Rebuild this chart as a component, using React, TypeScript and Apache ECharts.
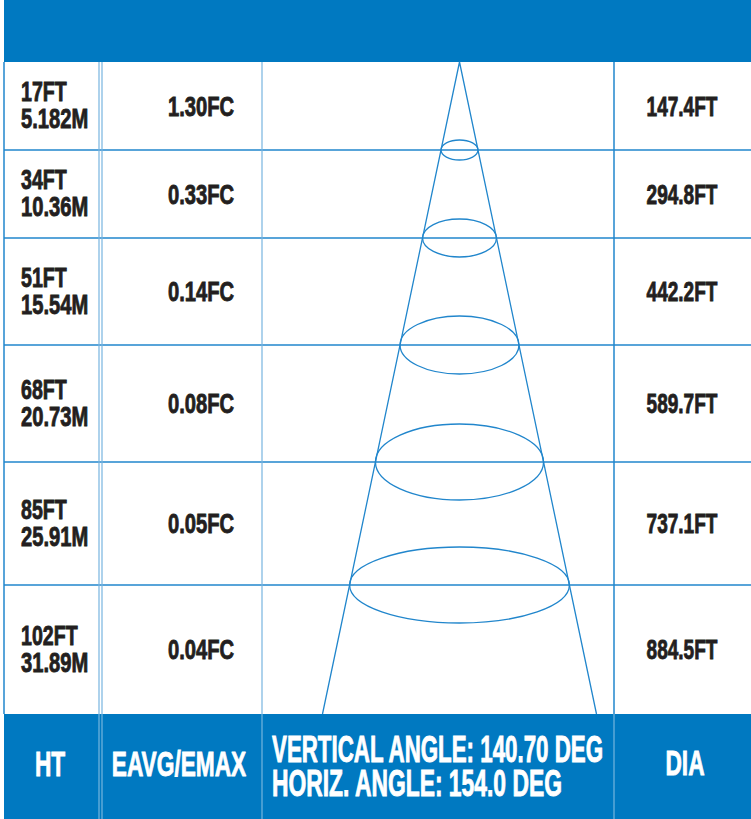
import React, { useEffect, useRef } from "react";
import * as echarts from "echarts";

// ---- data ----
const heightsFt = ["17", "34", "51", "68", "85", "102"];
const heightsM = ["5.182", "10.36", "15.54", "20.73", "25.91", "31.89"];
const illuminanceFc = ["1.30", "0.33", "0.14", "0.08", "0.05", "0.04"];
const diametersFt = ["147.4", "294.8", "442.2", "589.7", "737.1", "884.5"];
const verticalAngle = "140.70";
const horizontalAngle = "154.0";
const footerLabels = ["HT", "EAVG/EMAX", "DIA"];

// ---- layout (pixel space of the 751 x 819 canvas) ----
const W = 751;
const H = 819;
const rowEdges = [62, 150, 238, 345, 462, 585, 714];
const colEdges = [4, 99, 102, 262, 614];
const apex = [459.5, 62];
const baseHalf = 137;
const ellipseRy = [10, 19, 29, 38, 38];

const BLUE = "#0079c1";
const LINE = "#2186cc";
const LIGHT = "#77b4e0";
const INK = "#231f20";
const FONT = "'Liberation Sans', Arial, sans-serif";

const halfAt = (y: number) => (baseHalf * (y - apex[1])) / (rowEdges[6] - apex[1]);

export default function App() {
  const ref = useRef<HTMLDivElement>(null);
  useEffect(() => {
    if (!ref.current) return;
    const chart = echarts.init(ref.current, null, { renderer: "svg" });
    const rowCenters = rowEdges.slice(0, 6).map((e, i) => (e + rowEdges[i + 1]) / 2);

    const txt = (
      x: number,
      y: number,
      text: string,
      size: number,
      scale: number,
      align: string,
      fill: string
    ) => ({
      type: "text",
      x,
      y,
      scaleX: scale,
      style: {
        text,
        fill,
        stroke: fill,
        lineWidth: 0.9,
        fontSize: size,
        fontWeight: "bold",
        fontFamily: FONT,
        align,
        verticalAlign: "middle",
      },
    });

    chart.setOption({
      animation: false,
      grid: { left: 0, right: 0, top: 0, bottom: 0, containLabel: false },
      xAxis: { type: "value", min: 0, max: W, show: false },
      yAxis: { type: "value", min: 0, max: H, inverse: true, show: false },
      series: [
        {
          type: "custom",
          name: "bands",
          z: 1,
          clip: false,
          data: [
            [colEdges[0], 0, W, rowEdges[0]],
            [colEdges[0], rowEdges[6], W, H],
          ],
          renderItem: (_p: any, api: any) => {
            const a = api.coord([api.value(0), api.value(1)]);
            const b = api.coord([api.value(2), api.value(3)]);
            return {
              type: "rect",
              shape: { x: a[0], y: a[1], width: b[0] - a[0], height: b[1] - a[1] },
              style: { fill: BLUE },
            };
          },
        },
        {
          type: "custom",
          name: "rowLines",
          z: 2,
          clip: false,
          data: rowEdges.slice(1, 6).map((y) => [colEdges[0], y, W]),
          renderItem: (_p: any, api: any) => {
            const a = api.coord([api.value(0), api.value(1)]);
            const b = api.coord([api.value(2), api.value(1)]);
            return {
              type: "line",
              shape: { x1: a[0], y1: a[1], x2: b[0], y2: b[1] },
              style: { stroke: LINE, lineWidth: 1.4 },
            };
          },
        },
        {
          type: "custom",
          name: "colLines",
          z: 2,
          clip: false,
          data: colEdges.map((x, i) => [x, rowEdges[0], rowEdges[6], i]),
          renderItem: (_p: any, api: any) => {
            const a = api.coord([api.value(0), api.value(1)]);
            const b = api.coord([api.value(0), api.value(2)]);
            const i = api.value(3);
            const light = i === 1 || i === 2 || i === 3;
            return {
              type: "line",
              shape: { x1: a[0], y1: a[1], x2: b[0], y2: b[1] },
              style: { stroke: light ? LIGHT : LINE, lineWidth: light ? 1.2 : 1.5 },
            };
          },
        },
        {
          type: "custom",
          name: "footerDividers",
          z: 2,
          clip: false,
          data: colEdges.slice(1).map((x) => [x, rowEdges[6], H]),
          renderItem: (_p: any, api: any) => {
            const a = api.coord([api.value(0), api.value(1)]);
            const b = api.coord([api.value(0), api.value(2)]);
            return {
              type: "line",
              shape: { x1: a[0], y1: a[1], x2: b[0], y2: b[1] },
              style: { stroke: "rgba(255,255,255,0.55)", lineWidth: 1 },
            };
          },
        },
        {
          type: "line",
          name: "cone",
          z: 3,
          symbol: "none",
          clip: false,
          lineStyle: { color: LINE, width: 1.3 },
          data: [
            [apex[0] - baseHalf, rowEdges[6]],
            [apex[0], apex[1]],
            [apex[0] + baseHalf, rowEdges[6]],
          ],
        },
        {
          type: "custom",
          name: "beams",
          z: 3,
          clip: false,
          data: rowEdges.slice(1, 6).map((y, i) => [apex[0], y, halfAt(y), ellipseRy[i]]),
          renderItem: (_p: any, api: any) => {
            const c = api.coord([api.value(0), api.value(1)]);
            const s = api.size([api.value(2), api.value(3)]);
            return {
              type: "ellipse",
              shape: { cx: c[0], cy: c[1], rx: s[0], ry: s[1] },
              style: { fill: "none", stroke: LINE, lineWidth: 1.3 },
            };
          },
        },
        {
          type: "custom",
          name: "cells",
          z: 5,
          clip: false,
          data: heightsFt.map((_, i) => [i]),
          renderItem: (p: any, api: any) => {
            const i = p.dataIndex;
            const cy = rowCenters[i] - 1;
            const l1 = api.coord([21, cy - 13.5]);
            const l2 = api.coord([21, cy + 13.5]);
            const fc = api.coord([201, cy + 1]);
            const dia = api.coord([682, cy + 1]);
            return {
              type: "group",
              children: [
                txt(l1[0], l1[1], heightsFt[i] + "FT", 28, 0.7, "left", INK),
                txt(l2[0], l2[1], heightsM[i] + "M", 28, 0.72, "left", INK),
                txt(fc[0], fc[1], illuminanceFc[i] + "FC", 28, 0.72, "center", INK),
                txt(dia[0], dia[1], diametersFt[i] + "FT", 28, 0.68, "center", INK),
              ],
            };
          },
        },
        {
          type: "custom",
          name: "footer",
          z: 5,
          clip: false,
          data: [[0]],
          renderItem: (_p: any, api: any) => {
            const ht = api.coord([50, 763]);
            const ea = api.coord([179, 763]);
            const v1 = api.coord([272, 749.5]);
            const v2 = api.coord([272, 783.5]);
            const di = api.coord([685, 762]);
            return {
              type: "group",
              children: [
                txt(ht[0], ht[1], footerLabels[0], 36, 0.63, "center", "#fff"),
                txt(ea[0], ea[1], footerLabels[1], 36, 0.63, "center", "#fff"),
                txt(v1[0], v1[1], "VERTICAL ANGLE: " + verticalAngle + " DEG", 36, 0.62, "left", "#fff"),
                txt(v2[0], v2[1], "HORIZ. ANGLE: " + horizontalAngle + " DEG", 36, 0.635, "left", "#fff"),
                txt(di[0], di[1], footerLabels[2], 36, 0.63, "center", "#fff"),
              ],
            };
          },
        },
      ],
    });
    return () => chart.dispose();
  }, []);

  return (
    <div
      ref={ref}
      style={{ position: "fixed", left: 0, top: 0, width: W, height: H, background: "#fff" }}
    />
  );
}
